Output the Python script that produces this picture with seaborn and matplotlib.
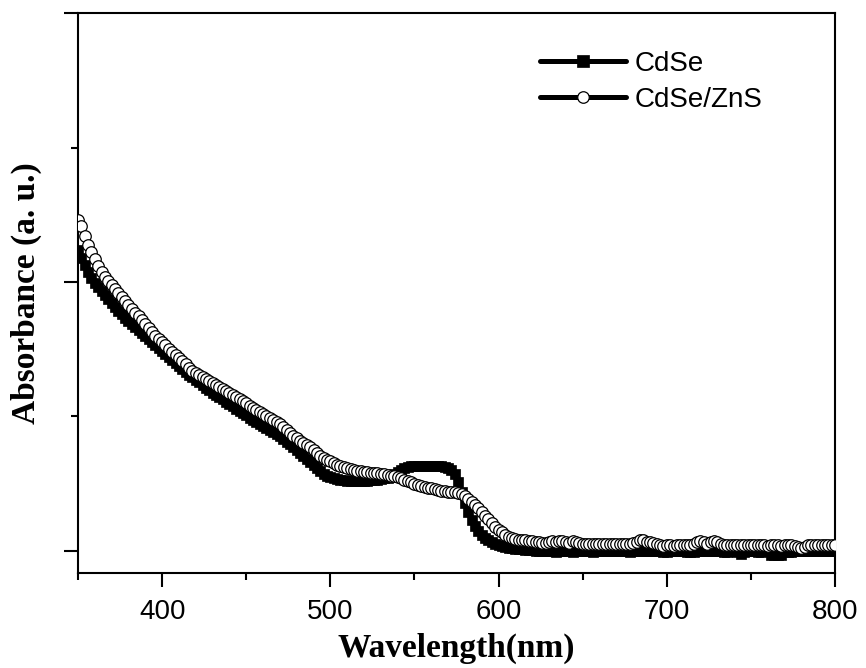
import numpy as np
import pandas as pd
import matplotlib
matplotlib.use("Agg")
import matplotlib.pyplot as plt
from matplotlib.ticker import MultipleLocator
import seaborn as sns

# ---- data ----
wavelength = np.arange(350, 801, 2)

cdse = [
    1.119, 1.089, 1.063, 1.037, 1.015, 0.996, 0.981, 0.967, 0.952, 0.937,
    0.922, 0.907, 0.892, 0.881, 0.866, 0.855, 0.844, 0.833, 0.822, 0.810,
    0.799, 0.788, 0.777, 0.766, 0.755, 0.743, 0.732, 0.721, 0.710, 0.699,
    0.688, 0.677, 0.665, 0.654, 0.647, 0.636, 0.628, 0.617, 0.606, 0.599,
    0.587, 0.580, 0.572, 0.565, 0.554, 0.546, 0.539, 0.528, 0.520, 0.513,
    0.506, 0.494, 0.487, 0.480, 0.472, 0.465, 0.457, 0.450, 0.442, 0.435,
    0.428, 0.416, 0.405, 0.398, 0.387, 0.375, 0.364, 0.353, 0.342, 0.331,
    0.320, 0.309, 0.297, 0.286, 0.279, 0.275, 0.271, 0.268, 0.264, 0.264,
    0.260, 0.260, 0.260, 0.260, 0.260, 0.260, 0.260, 0.264, 0.264, 0.264,
    0.268, 0.271, 0.271, 0.275, 0.286, 0.294, 0.301, 0.309, 0.312, 0.316,
    0.316, 0.316, 0.316, 0.316, 0.316, 0.316, 0.316, 0.316, 0.316, 0.312,
    0.309, 0.301, 0.286, 0.257, 0.219, 0.178, 0.145, 0.115, 0.093, 0.074,
    0.059, 0.048, 0.041, 0.033, 0.026, 0.022, 0.019, 0.015, 0.011, 0.011,
    0.007, 0.007, 0.007, 0.004, 0.004, 0.004, 0.000, 0.000, 0.000, 0.000,
    0.000, 0.000, -0.004, 0.000, 0.000, 0.000, 0.000, -0.004, 0.000, 0.000,
    0.000, 0.000, 0.000, -0.004, 0.000, 0.000, 0.000, 0.000, 0.000, 0.000,
    0.000, 0.000, 0.000, 0.000, -0.004, 0.000, 0.000, 0.000, 0.000, 0.000,
    0.000, 0.000, 0.000, 0.000, -0.004, -0.004, 0.000, 0.000, 0.000, 0.000,
    0.000, -0.004, -0.004, -0.004, 0.000, 0.000, 0.000, 0.000, 0.000, 0.000,
    0.000, 0.000, -0.004, -0.004, 0.000, 0.000, -0.004, -0.011, -0.004, 0.000,
    0.000, 0.000, -0.004, -0.004, 0.000, 0.000, -0.015, -0.015, -0.015, -0.015,
    0.000, -0.004, -0.004, 0.000, 0.000, 0.000, 0.000, 0.000, 0.000, 0.000,
    0.000, 0.000, 0.000, 0.000, 0.000, 0.000,
]

cdse_zns = [
    1.230, 1.208, 1.171, 1.138, 1.112, 1.086, 1.059, 1.037, 1.019, 1.004,
    0.989, 0.974, 0.959, 0.944, 0.929, 0.915, 0.900, 0.885, 0.874, 0.859,
    0.844, 0.829, 0.814, 0.799, 0.788, 0.777, 0.766, 0.751, 0.740, 0.729,
    0.717, 0.706, 0.695, 0.680, 0.669, 0.662, 0.654, 0.647, 0.639, 0.632,
    0.625, 0.617, 0.610, 0.602, 0.595, 0.587, 0.580, 0.572, 0.565, 0.558,
    0.550, 0.539, 0.532, 0.524, 0.517, 0.509, 0.502, 0.494, 0.487, 0.480,
    0.472, 0.461, 0.450, 0.439, 0.428, 0.420, 0.409, 0.401, 0.394, 0.387,
    0.375, 0.364, 0.353, 0.346, 0.338, 0.335, 0.327, 0.320, 0.316, 0.312,
    0.309, 0.305, 0.301, 0.297, 0.297, 0.294, 0.294, 0.290, 0.290, 0.290,
    0.286, 0.286, 0.283, 0.279, 0.279, 0.275, 0.271, 0.264, 0.260, 0.257,
    0.249, 0.245, 0.242, 0.238, 0.234, 0.234, 0.230, 0.227, 0.223, 0.223,
    0.219, 0.219, 0.219, 0.216, 0.212, 0.204, 0.193, 0.182, 0.171, 0.160,
    0.145, 0.130, 0.119, 0.104, 0.089, 0.078, 0.071, 0.059, 0.052, 0.048,
    0.045, 0.041, 0.041, 0.041, 0.037, 0.037, 0.033, 0.033, 0.030, 0.030,
    0.033, 0.037, 0.033, 0.037, 0.037, 0.033, 0.030, 0.037, 0.033, 0.030,
    0.026, 0.026, 0.026, 0.026, 0.026, 0.026, 0.026, 0.026, 0.026, 0.026,
    0.026, 0.026, 0.026, 0.026, 0.026, 0.030, 0.033, 0.041, 0.041, 0.033,
    0.033, 0.030, 0.026, 0.022, 0.019, 0.022, 0.022, 0.019, 0.022, 0.022,
    0.022, 0.022, 0.022, 0.026, 0.033, 0.037, 0.033, 0.026, 0.033, 0.037,
    0.033, 0.026, 0.022, 0.022, 0.022, 0.022, 0.022, 0.022, 0.022, 0.022,
    0.022, 0.022, 0.022, 0.022, 0.022, 0.019, 0.022, 0.022, 0.022, 0.019,
    0.022, 0.022, 0.022, 0.019, 0.015, 0.011, 0.015, 0.022, 0.022, 0.022,
    0.022, 0.022, 0.022, 0.022, 0.022, 0.022,
]

series_labels = ["CdSe", "CdSe/ZnS"]
x_ticks = [400, 500, 600, 700, 800]

# ---- style ----
sns.set_style("ticks")
plt.rcParams["font.family"] = ["Liberation Sans", "DejaVu Sans"]
plt.rcParams.update({
    "text.color": "black",
    "axes.labelcolor": "black",
    "axes.edgecolor": "black",
    "xtick.color": "black",
    "ytick.color": "black",
})

fig = plt.figure(figsize=(8.66, 6.68), dpi=100)
ax = fig.add_axes([0.0901, 0.1422, 0.8741, 0.8383])

sns.lineplot(x=wavelength, y=cdse, ax=ax, color="black", linewidth=3.6,
             marker="s", markersize=6.5, markeredgewidth=0.5,
             markerfacecolor="black", markeredgecolor="black",
             label=series_labels[0], zorder=2)
sns.lineplot(x=wavelength, y=cdse_zns, ax=ax, color="black", linewidth=3.6,
             marker="o", markersize=8.3, markeredgewidth=0.9,
             markerfacecolor="white", markeredgecolor="black",
             label=series_labels[1], zorder=3)

ax.set_xlim(350, 800)
ax.set_ylim(-0.082, 2.0)
ax.set_xticks(x_ticks)
ax.xaxis.set_minor_locator(MultipleLocator(50))
ax.yaxis.set_major_locator(MultipleLocator(1.0))
ax.yaxis.set_minor_locator(MultipleLocator(0.5))
ax.set_yticklabels([])

for s in ax.spines.values():
    s.set_linewidth(1.5)
    s.set_color("black")
    s.set_visible(True)

ax.tick_params(axis="x", which="major", direction="out", length=10, width=1.5,
               labelsize=20, pad=9, colors="black", bottom=True, top=False)
ax.tick_params(axis="x", which="minor", direction="out", length=5, width=1.5,
               bottom=True, top=False, colors="black")
ax.tick_params(axis="y", which="major", direction="out", length=10, width=1.5,
               left=True, right=False, labelleft=False, colors="black")
ax.tick_params(axis="y", which="minor", direction="out", length=5, width=1.5,
               left=True, right=False, colors="black")

ax.set_xlabel("Wavelength(nm)", fontsize=24, fontweight="bold", color="black",
              family=["Liberation Serif", "DejaVu Serif"], labelpad=5)
ax.set_ylabel("Absorbance (a. u.)", fontsize=24, fontweight="bold", color="black",
              family=["Liberation Serif", "DejaVu Serif"], labelpad=16)

leg = ax.legend(loc="upper left", bbox_to_anchor=(0.61, 0.932), frameon=False,
                fontsize=20, handlelength=3.1, handletextpad=0.3,
                labelspacing=0.35, borderpad=0, borderaxespad=0, numpoints=1)
for t in leg.get_texts():
    t.set_color("black")
for h in leg.legend_handles:
    try:
        if h.get_marker() == "s":
            h.set_markersize(8)
    except AttributeError:
        pass

fig.savefig("out.png", dpi=100)
